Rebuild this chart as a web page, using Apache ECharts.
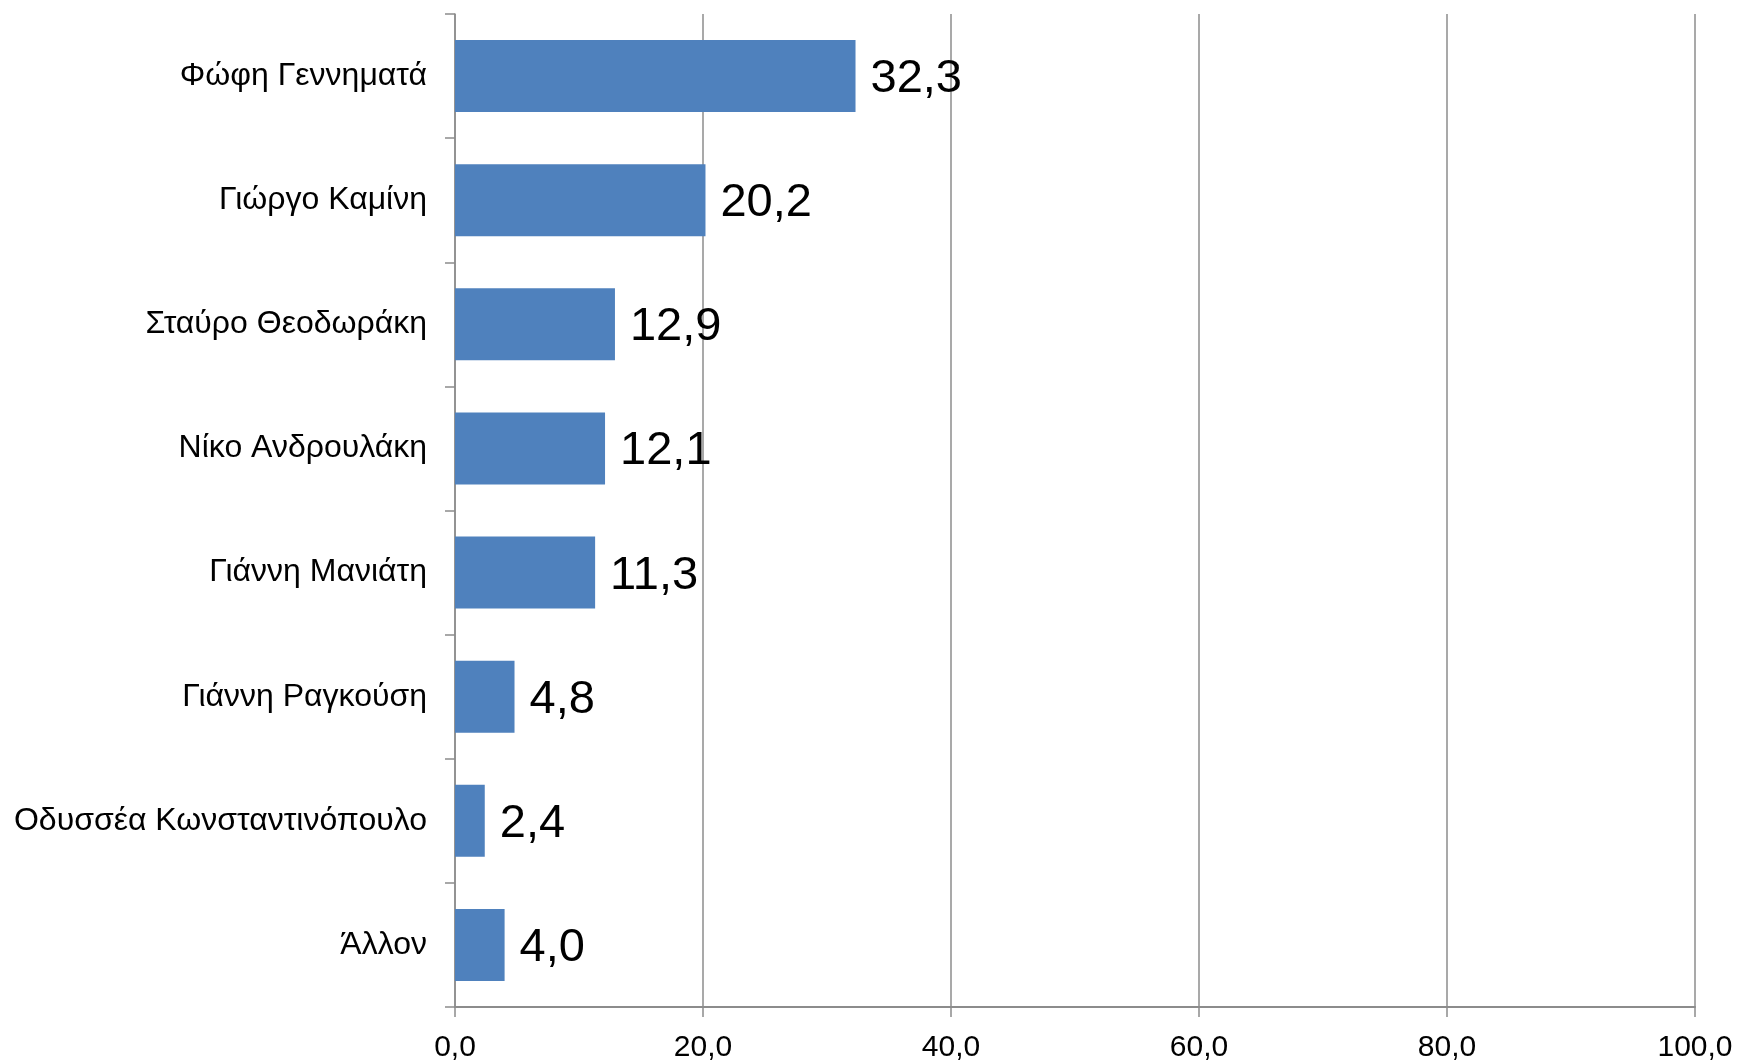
<!DOCTYPE html>
<html><head><meta charset="utf-8">
<script src="https://cdn.jsdelivr.net/npm/echarts@6/dist/echarts.min.js"></script>
<style>html,body{margin:0;padding:0;background:#fff}#c{width:1739px;height:1062px}</style>
</head><body><div id="c"></div>
<script>
const categories = ["Φώφη Γεννηματά","Γιώργο Καμίνη","Σταύρο Θεοδωράκη","Νίκο Ανδρουλάκη","Γιάννη Μανιάτη","Γιάννη Ραγκούση","Οδυσσέα Κωνσταντινόπουλο","Άλλον"];
const values = [32.3, 20.2, 12.9, 12.1, 11.3, 4.8, 2.4, 4.0];
const xTicks = [0, 20, 40, 60, 80, 100];

const fmt = v => Number(v).toFixed(1).replace('.', ',');
const chart = echarts.init(document.getElementById('c'));
chart.setOption({
  animation: false,
  textStyle: {fontFamily: 'Liberation Sans, Arial, sans-serif'},
  grid: {left: 455, right: 44, top: 14, bottom: 55, containLabel: false, outerBoundsMode: 'none'},
  xAxis: {
    type: 'value', min: xTicks[0], max: xTicks[xTicks.length-1], interval: 20,
    axisLine: {show: true, lineStyle: {color: '#8c8c8c', width: 2}},
    axisTick: {show: true, length: 10, lineStyle: {color: '#8c8c8c', width: 1.5}},
    splitLine: {show: true, lineStyle: {color: '#8c8c8c', width: 1.5}},
    axisLabel: {color: '#000', fontSize: 30, margin: 26, formatter: fmt}
  },
  yAxis: {
    type: 'category', data: categories, inverse: true,
    axisLine: {show: true, lineStyle: {color: '#8c8c8c', width: 1.5}},
    axisTick: {show: true, length: 10, lineStyle: {color: '#8c8c8c', width: 1.5}},
    axisLabel: {color: '#000', fontSize: 32, margin: 28, padding: [0, 0, 8, 0]}
  },
  series: [{
    type: 'bar', data: values, barWidth: '58%',
    itemStyle: {color: '#4F81BD'},
    label: {show: true, position: 'right', distance: 15, offset: [0, 3], color: '#000', fontSize: 47, formatter: p => fmt(p.value)}
  }]
});
</script></body></html>
